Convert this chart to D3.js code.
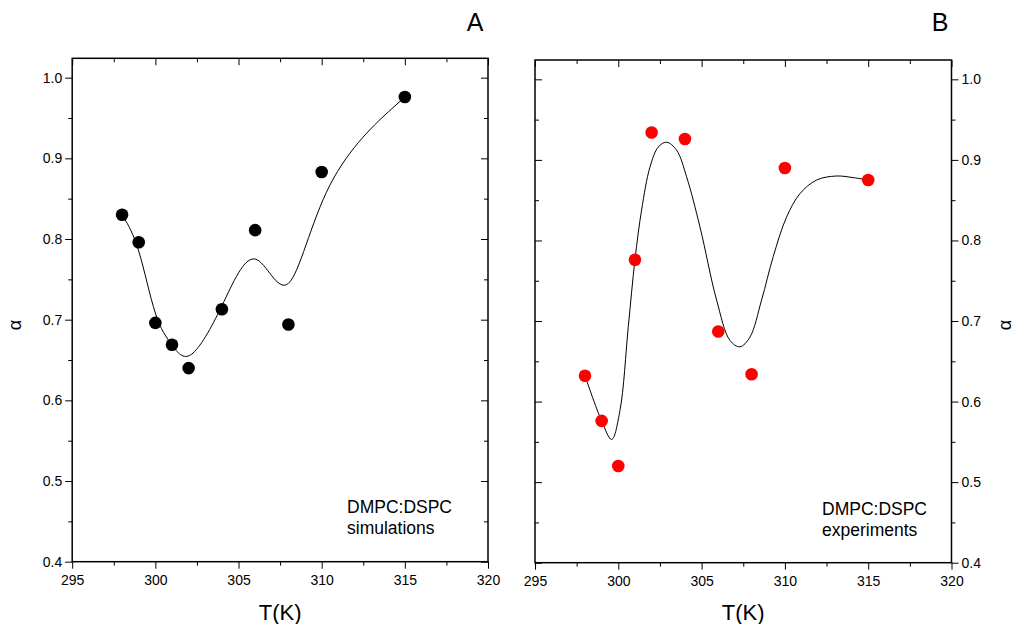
<!DOCTYPE html>
<html lang="en">
<head>
    <meta charset="UTF-8">
    <title>DMPC:DSPC alpha vs T</title>
    <script src="https://cdnjs.cloudflare.com/ajax/libs/d3/7.8.5/d3.min.js"></script>
    <style>
        body { margin: 0; background: #fff; }
        svg { font-family: "Liberation Sans", Arial, sans-serif; }
        .tick line { stroke: #000; stroke-width: 1; }
    </style>
</head>
<body>
<svg id="chart" width="1015" height="624"></svg>
<script>
    // temperatures and alpha values
    const tempA = [298, 299, 300, 301, 302, 304, 306, 308, 310, 315];
    const alphaA = [0.830, 0.796, 0.696, 0.669, 0.640, 0.713, 0.811, 0.694, 0.883, 0.976];

    const tempB = [298, 299, 300, 301, 302, 304, 306, 308, 310, 315];
    const alphaB = [0.632, 0.576, 0.520, 0.776, 0.934, 0.926, 0.687, 0.634, 0.890, 0.875];

    // fitted line of panel B
    const fitTempB = [298, 299, 299.6, 300.1, 300.6, 301.0, 301.4, 301.9, 302.4, 302.9, 303.5, 304.1, 304.9,
        305.9, 306.7, 307.3, 307.9, 308.6, 309.3, 310.1, 310.9, 311.9, 313.1, 314.1, 315];
    const fitAlphaB = [0.632, 0.576, 0.553, 0.589, 0.693, 0.776, 0.838, 0.891, 0.916, 0.922, 0.912, 0.879, 0.817,
        0.726, 0.676, 0.668, 0.680, 0.726, 0.780, 0.829, 0.858, 0.875, 0.880, 0.878, 0.875];

    const xMajor = [295, 300, 305, 310, 315, 320];
    const xMinor = [297.5, 302.5, 307.5, 312.5, 317.5];
    const yMajor = [0.4, 0.5, 0.6, 0.7, 0.8, 0.9, 1.0];
    const yMinor = [0.45, 0.55, 0.65, 0.75, 0.85, 0.95];

    const svg = d3.select("#chart");

    function drawPanel(p) {
        const x = d3.scaleLinear().domain([295, 320]).range([p.left, p.right]);
        const y = d3.scaleLinear().domain([0.4, 1.024]).range([p.bottom, p.top]);
        const g = svg.append("g");

        function axis(gen, tx, ty, values, size, pad) {
            gen.tickValues(values).tickSize(size).tickPadding(pad || 0);
            if (!pad) gen.tickFormat("");
            const sel = g.append("g").attr("transform", `translate(${tx},${ty})`).call(gen);
            sel.attr("font-family", "'Liberation Sans', Arial, sans-serif").attr("font-size", 14);
            sel.selectAll(".tick text").attr("fill", "#000");
            sel.select(".domain").remove();
            return sel;
        }

        // bottom (labelled) and top (mirror) axes
        axis(d3.axisBottom(x), 0, p.bottom, xMajor, 7, 6);
        axis(d3.axisBottom(x), 0, p.bottom, xMinor, 4);
        axis(d3.axisBottom(x), 0, p.top, xMajor, 7);
        axis(d3.axisBottom(x), 0, p.top, xMinor, 4);

        const fmt = d3.format(".1f");
        if (p.side === "left") {
            axis(d3.axisLeft(y).tickFormat(fmt), p.left, 0, yMajor, 7, 3);
            axis(d3.axisLeft(y), p.left, 0, yMinor, 4);
            axis(d3.axisLeft(y), p.right, 0, yMajor, 7);
            axis(d3.axisLeft(y), p.right, 0, yMinor, 4);
        } else {
            axis(d3.axisRight(y).tickFormat(fmt), p.right, 0, yMajor, 7, 3);
            axis(d3.axisRight(y), p.right, 0, yMinor, 4);
            axis(d3.axisRight(y), p.left, 0, yMajor, 7);
            axis(d3.axisRight(y), p.left, 0, yMinor, 4);
        }

        g.append("rect")
            .attr("x", p.left).attr("y", p.top)
            .attr("width", p.right - p.left).attr("height", p.bottom - p.top)
            .attr("fill", "none").attr("stroke", "#000").attr("stroke-width", 1.5);

        // fitted line
        g.append("path")
            .datum(d3.zip(p.fitT, p.fitA))
            .attr("fill", "none")
            .attr("stroke", "#000")
            .attr("stroke-width", 1)
            .attr("d", d3.line().x(d => x(d[0])).y(d => y(d[1])).curve(p.curve));

        g.selectAll("circle")
            .data(d3.zip(p.temp, p.alpha))
            .enter()
            .append("circle")
            .attr("cx", d => x(d[0]))
            .attr("cy", d => y(d[1]))
            .attr("r", 6.3)
            .attr("fill", p.color);

        // axis titles and labels
        g.append("text")
            .attr("x", (p.left + p.right) / 2).attr("y", 620)
            .attr("text-anchor", "middle").style("font-size", "22px")
            .text("T(K)");
        g.append("text")
            .attr("transform", `translate(${p.alphaX},325) rotate(-90)`)
            .attr("text-anchor", "middle").attr("dy", "0.35em")
            .style("font-size", "18px")
            .text("α");
        g.append("text")
            .attr("x", p.titleX).attr("y", 31)
            .attr("text-anchor", "middle").style("font-size", "25px")
            .text(p.title);

        const note = g.append("text").attr("x", p.noteX).attr("y", p.noteY).style("font-size", "17.5px");
        note.append("tspan").attr("x", p.noteX).text("DMPC:DSPC");
        note.append("tspan").attr("x", p.noteX).attr("dy", 21).text(p.note);
    }

    drawPanel({
        left: 72.2, right: 488, top: 58.3, bottom: 561.7,
        side: "left", temp: tempA, alpha: alphaA, fitT: tempA, fitA: alphaA,
        curve: d3.curveBasis, color: "#000",
        title: "A", titleX: 475, alphaX: 15,
        noteX: 347, noteY: 513, note: "simulations"
    });

    drawPanel({
        left: 535, right: 951.5, top: 60, bottom: 562.7,
        side: "right", temp: tempB, alpha: alphaB, fitT: fitTempB, fitA: fitAlphaB,
        curve: d3.curveCatmullRom, color: "#ff0000",
        title: "B", titleX: 940, alphaX: 1005,
        noteX: 822, noteY: 515, note: "experiments"
    });
</script>
</body>
</html>
